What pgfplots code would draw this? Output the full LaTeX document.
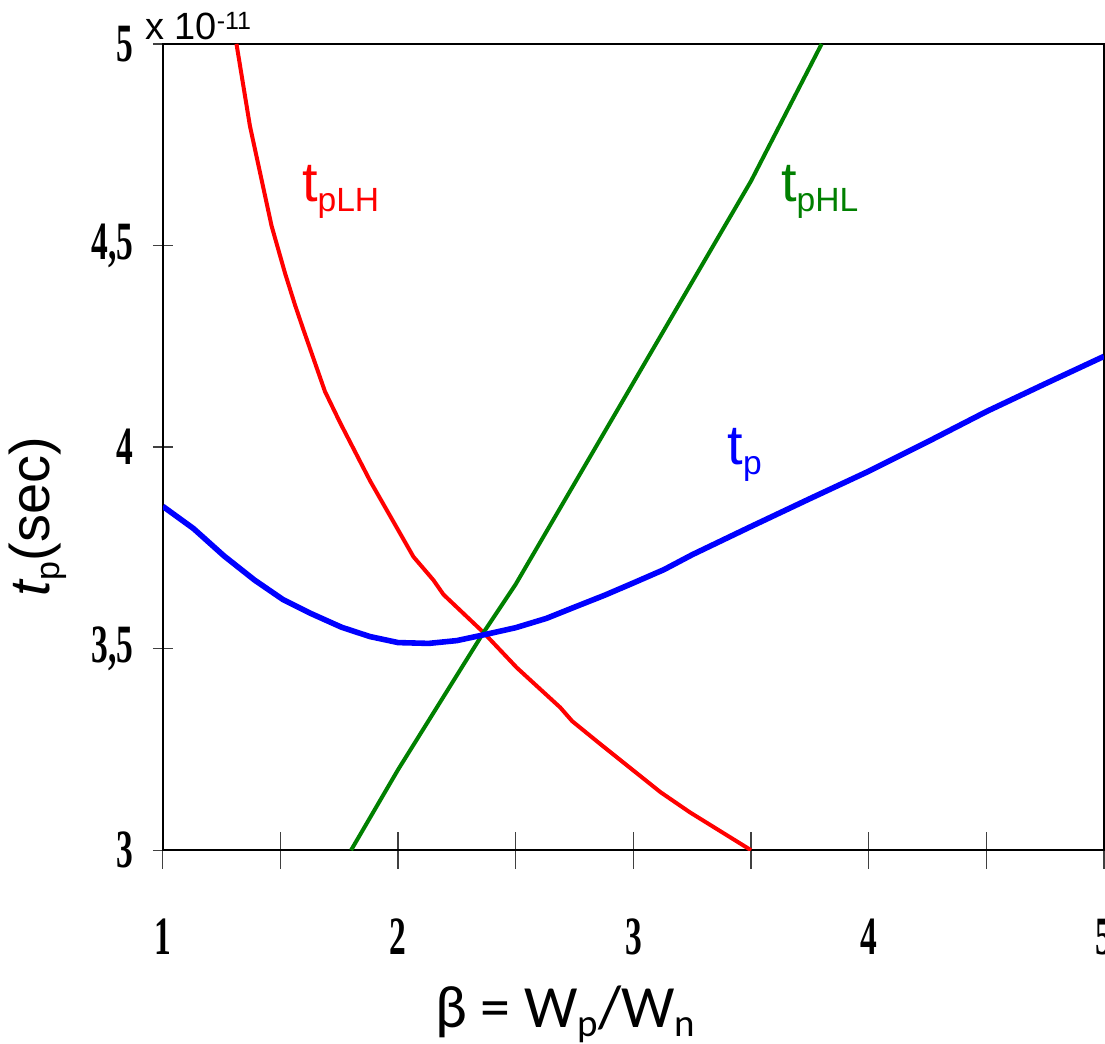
\documentclass[border=0pt]{standalone}
\usepackage{graphicx}
\usepackage{fontspec}
\usepackage{pgfplots}
\pgfplotsset{compat=1.18}
\setmainfont{Liberation Sans}
\newfontfamily\tickfont{Liberation Serif}
\newfontfamily\carlito{Carlito}
\newcommand\tl[1]{\scalebox{0.62}[1]{\tickfont\bfseries #1}}
\begin{document}
\begin{tikzpicture}
\begin{axis}[
  scale only axis, width=471pt, height=403.5pt,
  xmin=1, xmax=5, ymin=3, ymax=5,
  axis line style={line width=1.1pt, black},
  tick align=center, tick pos=left,
  xtick={1,1.5,2,2.5,3,3.5,4,4.5,5},
  xticklabels={\tl{1},,\tl{2},,\tl{3},,\tl{4},,\tl{5}},
  ytick={3,3.5,4,4.5,5},
  yticklabels={\tl{3},{\tl{3,5}},\tl{4},{\tl{4,5}},\tl{5}},
  xtick style={draw=black!75, line width=0.65pt, /pgfplots/major tick length=18.5pt},
  ytick style={draw=black!75, line width=0.65pt, /pgfplots/major tick length=10pt},
  ticklabel style={font=\fontsize{27}{27}\selectfont, inner sep=0pt},
  xticklabel style={anchor=north, yshift=-32pt},
  yticklabel style={anchor=east, xshift=-12.5pt},
  clip mode=individual,
]
\addplot[red, line width=2pt, line join=round] coordinates {
(1.313,5.0) (1.37,4.797) (1.462,4.549) (1.52,4.43) (1.562,4.352) (1.597,4.292)
(1.689,4.138) (1.753,4.061) (1.881,3.916) (2.065,3.728) (2.15,3.670) (2.193,3.634)
(2.363,3.540) (2.504,3.453) (2.689,3.354) (2.74,3.32) (2.86,3.263) (3.115,3.144)
(3.24,3.094) (3.50,3.0)
};
\addplot[green!50!black, line width=2pt, line join=round] coordinates {
(1.8,3.0) (2.0,3.2) (2.363,3.54) (2.5,3.66) (3.0,4.16) (3.5,4.66) (3.8,5.0)
};
\addplot[blue, line width=2.8pt, line join=round] coordinates {
(1.0,3.853) (1.13,3.798) (1.26,3.730) (1.39,3.670) (1.51,3.622) (1.63,3.587)
(1.76,3.553) (1.88,3.530) (2.0,3.515) (2.13,3.513) (2.25,3.520) (2.37,3.535)
(2.50,3.552) (2.63,3.575) (2.75,3.603) (2.88,3.633) (3.0,3.663) (3.13,3.696)
(3.25,3.733) (3.5,3.803) (3.75,3.872) (4.0,3.940) (4.25,4.013) (4.5,4.088)
(4.75,4.157) (5.0,4.225)
};
\node[anchor=base west, inner sep=0pt, text=red, font=\fontsize{28}{28}\selectfont]
  at (axis cs:1.590,4.609) {t\raisebox{-5pt}{\fontsize{16.8}{16.8}\selectfont pLH}};
\node[anchor=base west, inner sep=0pt, text=green!50!black, font=\fontsize{28}{28}\selectfont]
  at (axis cs:3.626,4.609) {t\raisebox{-5pt}{\fontsize{16.8}{16.8}\selectfont pHL}};
\node[anchor=base west, inner sep=0pt, text=blue, font=\fontsize{28}{28}\selectfont]
  at (axis cs:3.399,3.957) {t\raisebox{-5pt}{\fontsize{16.8}{16.8}\selectfont p}};
\node[anchor=base west, inner sep=0pt, font=\fontsize{19}{19}\selectfont]
  at (axis cs:0.923,5.0099) {x 10\raisebox{5pt}{\fontsize{12.5}{12.5}\selectfont -11}};
\node[anchor=base west, inner sep=0pt, rotate=90, font=\fontsize{28}{28}\selectfont]
  at (axis cs:0.519,3.6295) {\itshape t\upshape\raisebox{-5pt}{\fontsize{17}{17}\selectfont p}(sec)};
\node[anchor=base west, inner sep=0pt, font=\fontsize{30}{30}\carlito]
  at (axis cs:2.157,2.5613) {β = W\raisebox{-4.5pt}{\fontsize{19.5}{19.5}\selectfont p}/W\raisebox{-4.5pt}{\fontsize{19.5}{19.5}\selectfont n}};
\coordinate (BL) at (rel axis cs:-0.17304,-0.23916);
\coordinate (TR) at (rel axis cs:1.0011,1.05452);
\end{axis}
\pgfresetboundingbox
\useasboundingbox (BL) rectangle (TR);
\end{tikzpicture}
\end{document}
